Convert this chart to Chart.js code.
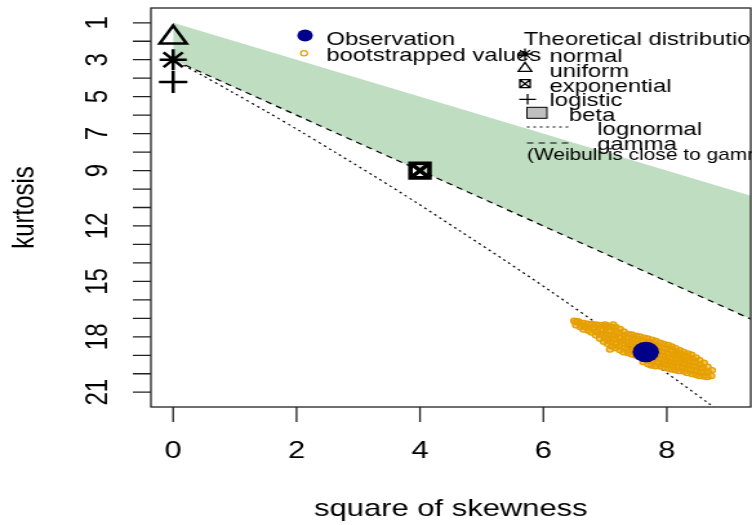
<!DOCTYPE html>
<html>
<head>
<meta charset="utf-8">
<title>Cullen and Frey graph</title>
<script src="https://cdn.jsdelivr.net/npm/chart.js@4.4.1/dist/chart.umd.min.js"></script>
<style>
  html, body { margin: 0; padding: 0; background: #fff; overflow: hidden; }
  #wrap { width: 583px; height: 525px; transform: scaleX(1.2899); transform-origin: 0 0; }
</style>
</head>
<body>
<div id="wrap"><canvas id="cf" width="583" height="525"></canvas></div>
<script>
// axis ticks (y is kurtosis, drawn top-down)
const xTicks = [0, 2, 4, 6, 8];
const yTicks = [1, 2, 3, 4, 5, 6, 7, 8, 9, 10, 11, 12, 13, 14, 15, 16, 17, 18, 19, 20, 21];
const yTickLabels = [1, 3, 5, 7, 9, 12, 15, 18, 21];

// observed (square of skewness, kurtosis)
const observation = [7.66, 18.82];

// theoretical distributions
const normalPt = [0, 3];
const uniformPt = [0, 1.8];
const exponentialPt = [4, 9];
const logisticPt = [0, 4.2];
const betaUpper = [[0, 1], [10, 11]];
const betaLower = [[0, 3], [10, 18]];
const gammaLine = [[0.2, 3.3], [10, 18]];
const lognormalLine = [[0.17, 3.30], [0.47, 3.84], [0.96, 4.76], [1.49, 5.76], [2.05, 6.85],
  [2.64, 8.04], [3.27, 9.32], [3.93, 10.71], [4.62, 12.21], [5.36, 13.83], [6.13, 15.56],
  [6.93, 17.43], [7.78, 19.43], [8.66, 21.56], [9.02, 22.46]];

// bootstrapped (skewness^2, kurtosis)
const bootValues = [
  [6.50,17.14],[6.52,17.21],[6.53,17.38],[6.56,17.16],[6.59,17.24],[6.60,17.47],
  [6.65,17.25],[6.66,17.42],[6.65,17.60],[6.72,17.29],[6.71,17.49],[6.73,17.67],
  [6.78,17.31],[6.79,17.54],[6.78,17.77],[6.85,17.34],[6.84,17.52],[6.86,17.74],[6.85,17.92],
  [6.91,17.36],[6.92,17.61],[6.91,17.87],[6.92,18.10],[7.00,17.33],
  [6.98,17.40],[6.97,17.63],[6.98,17.84],[6.99,18.05],[6.98,18.27],
  [7.04,17.43],[7.05,17.69],[7.04,17.90],[7.05,18.16],[7.04,18.37],[7.08,18.69],
  [7.11,17.46],[7.10,17.67],[7.11,17.91],[7.12,18.12],[7.10,18.30],[7.11,18.52],[7.13,17.33],
  [7.17,17.47],[7.18,17.71],[7.17,17.94],[7.16,18.14],[7.18,18.38],[7.17,18.61],
  [7.24,17.58],[7.23,17.81],[7.24,18.03],[7.25,18.27],[7.23,18.50],[7.24,18.72],
  [7.30,17.72],[7.31,17.92],[7.30,18.16],[7.29,18.37],[7.31,18.59],[7.30,18.83],
  [7.37,17.85],[7.36,18.05],[7.37,18.27],[7.38,18.46],[7.36,18.70],[7.37,18.88],
  [7.43,17.88],[7.44,18.10],[7.43,18.30],[7.42,18.54],[7.44,18.73],[7.43,18.95],
  [7.50,17.94],[7.49,18.14],[7.50,18.38],[7.51,18.57],[7.49,18.81],[7.50,19.01],
  [7.56,17.98],[7.57,18.21],[7.56,18.43],[7.55,18.86],[7.57,19.08],
  [7.63,18.05],[7.62,18.26],[7.63,19.19],[7.62,19.36],
  [7.69,18.09],[7.70,18.30],[7.69,19.28],[7.70,19.48],
  [7.76,18.16],[7.75,18.36],[7.76,19.33],[7.75,19.55],
  [7.82,18.23],[7.83,18.46],[7.82,18.68],[7.82,19.19],[7.83,19.38],[7.82,19.59],
  [7.89,18.33],[7.88,18.54],[7.89,18.77],[7.88,18.98],[7.89,19.20],[7.88,19.41],[7.89,19.60],
  [7.95,18.39],[7.96,18.61],[7.95,18.81],[7.94,19.04],[7.96,19.25],[7.95,19.46],[7.95,19.66],
  [8.02,18.45],[8.01,18.67],[8.02,18.90],[8.01,19.11],[8.02,19.32],[8.01,19.53],[8.02,19.72],
  [8.08,18.53],[8.09,18.75],[8.08,18.96],[8.07,19.16],[8.08,19.37],[8.09,19.56],[8.08,19.77],
  [8.14,18.62],[8.15,18.82],[8.14,19.03],[8.15,19.22],[8.14,19.41],[8.15,19.62],[8.14,19.81],
  [8.21,18.73],[8.20,18.94],[8.21,19.16],[8.22,19.38],[8.21,19.61],[8.20,19.85],
  [8.27,18.82],[8.28,19.03],[8.27,19.25],[8.28,19.45],[8.27,19.67],[8.28,19.88],
  [8.34,18.90],[8.33,19.12],[8.34,19.33],[8.35,19.54],[8.34,19.74],[8.33,19.96],
  [8.40,18.98],[8.41,19.18],[8.40,19.38],[8.41,19.59],[8.40,19.81],[8.41,20.01],
  [8.47,19.12],[8.46,19.36],[8.47,19.59],[8.48,19.83],[8.47,20.06],
  [8.53,19.27],[8.54,19.49],[8.53,19.70],[8.54,19.92],[8.53,20.12],
  [8.60,19.41],[8.59,19.67],[8.60,19.92],[8.60,20.15],
  [8.66,19.63],[8.67,19.90],[8.66,20.17],
  [8.73,19.81],[8.72,20.12]
];

const GREEN = 'rgb(191,221,192)';
const ORANGE = '#E69F00';
const NAVY = '#00008B';
const FONT = '"Liberation Sans", Arial, Helvetica, sans-serif';

const pts = arr => arr.map(p => ({ x: p[0], y: p[1] }));

function marker(data, style, radius, width, order) {
  return {
    type: 'scatter',
    data: pts([data]),
    pointStyle: style,
    pointRadius: radius,
    pointBorderWidth: width,
    pointBorderColor: '#000',
    pointBackgroundColor: 'rgba(0,0,0,0)',
    order: order
  };
}

// R-like box, axes, labels and the two legends
const rPlot = {
  id: 'rPlot',
  afterDraw(chart) {
    const ctx = chart.ctx;
    const a = chart.chartArea;
    const xs = chart.scales.x, ys = chart.scales.y;
    ctx.save();
    ctx.strokeStyle = '#222';
    ctx.lineWidth = 1.3;
    ctx.strokeRect(a.left, a.top, a.right - a.left, a.bottom - a.top);

    ctx.beginPath();
    xTicks.forEach(v => {
      const px = xs.getPixelForValue(v);
      ctx.moveTo(px, a.bottom);
      ctx.lineTo(px, a.bottom + 15);
    });
    yTicks.forEach(v => {
      const py = ys.getPixelForValue(v);
      ctx.moveTo(a.left, py);
      ctx.lineTo(a.left - 14, py);
    });
    ctx.stroke();

    ctx.fillStyle = '#000';
    ctx.font = '24px ' + FONT;
    ctx.textAlign = 'center';
    ctx.textBaseline = 'alphabetic';
    xTicks.forEach(v => ctx.fillText(String(v), xs.getPixelForValue(v), 458));
    ctx.fillText('square of skewness', (a.left + a.right) / 2, 516);
    yTickLabels.forEach(v => {
      ctx.save();
      ctx.translate(83, ys.getPixelForValue(v));
      ctx.rotate(-Math.PI / 2);
      ctx.fillText(String(v), 0, 0);
      ctx.restore();
    });
    ctx.save();
    ctx.translate(26, (a.top + a.bottom) / 2);
    ctx.rotate(-Math.PI / 2);
    ctx.fillText('kurtosis', 0, 0);
    ctx.restore();

    // legend: observation / bootstrap
    ctx.textAlign = 'left';
    ctx.font = '18.5px ' + FONT;
    ctx.fillStyle = NAVY;
    ctx.beginPath();
    ctx.arc(236.5, 35.5, 6, 0, Math.PI * 2);
    ctx.fill();
    ctx.strokeStyle = ORANGE;
    ctx.lineWidth = 1.2;
    ctx.beginPath();
    ctx.arc(235.7, 53.3, 2.6, 0, Math.PI * 2);
    ctx.stroke();
    ctx.fillStyle = '#000';
    ctx.fillText('Observation', 253, 45);
    ctx.fillText('bootstrapped values', 253, 60.5);

    // legend: theoretical distributions
    ctx.fillText('Theoretical distributions', 406, 45);
    ctx.fillText('normal', 426, 61.7);
    ctx.fillText('uniform', 426, 76.7);
    ctx.fillText('exponential', 426, 91.7);
    ctx.fillText('logistic', 426, 106);
    ctx.fillText('beta', 441, 120.7);
    ctx.fillText('lognormal', 463, 135);
    ctx.fillText('gamma', 463, 150);
    ctx.font = '16.2px ' + FONT;
    ctx.fillText('(Weibull is close to gamma and lognormal)', 408.5, 160);

    ctx.strokeStyle = '#000';
    ctx.lineWidth = 1.3;
    // asterisk
    ctx.beginPath();
    for (let k = 0; k < 4; k++) {
      const ang = k * Math.PI / 4;
      ctx.moveTo(407 - Math.cos(ang) * 5.5, 54 - Math.sin(ang) * 5.5);
      ctx.lineTo(407 + Math.cos(ang) * 5.5, 54 + Math.sin(ang) * 5.5);
    }
    ctx.stroke();
    // triangle
    ctx.beginPath();
    ctx.moveTo(407, 62.3);
    ctx.lineTo(412.2, 71.3);
    ctx.lineTo(401.8, 71.3);
    ctx.closePath();
    ctx.stroke();
    // square with cross
    ctx.beginPath();
    ctx.rect(403, 79.7, 8, 8);
    ctx.moveTo(403, 79.7); ctx.lineTo(411, 87.7);
    ctx.moveTo(411, 79.7); ctx.lineTo(403, 87.7);
    ctx.stroke();
    // plus
    ctx.beginPath();
    ctx.moveTo(402.5, 99.3); ctx.lineTo(415.5, 99.3);
    ctx.moveTo(409, 94); ctx.lineTo(409, 104.6);
    ctx.stroke();
    // beta box
    ctx.fillStyle = '#C0C0C0';
    ctx.fillRect(408.5, 107.3, 15.5, 11);
    ctx.lineWidth = 1;
    ctx.strokeRect(408.5, 107.3, 15.5, 11);
    // lognormal / gamma line samples
    ctx.lineWidth = 1.2;
    ctx.setLineDash([2, 3]);
    ctx.beginPath(); ctx.moveTo(408.5, 127); ctx.lineTo(442, 127); ctx.stroke();
    ctx.setLineDash([5, 4]);
    ctx.beginPath(); ctx.moveTo(408.5, 143); ctx.lineTo(442, 143); ctx.stroke();
    ctx.restore();
  }
};

new Chart(document.getElementById('cf'), {
  type: 'scatter',
  data: {
    datasets: [
      {
        type: 'line', data: pts(betaUpper), borderColor: 'rgba(0,0,0,0)', borderWidth: 1,
        pointRadius: 0, fill: false, order: 11
      },
      {
        type: 'line', data: pts(betaLower), borderColor: 'rgba(0,0,0,0)', borderWidth: 1,
        backgroundColor: GREEN, pointRadius: 0, fill: '-1', order: 10
      },
      {
        type: 'line', data: pts(gammaLine), borderColor: '#000', borderWidth: 1.2,
        borderDash: [5, 4], pointRadius: 0, fill: false, order: 8
      },
      {
        type: 'line', data: pts(lognormalLine), borderColor: '#000', borderWidth: 1.2,
        borderDash: [2, 3], pointRadius: 0, fill: false, tension: 0.3, order: 8
      },
      marker(normalPt, 'star', 10.5, 2.5, 6),
      marker(uniformPt, 'triangle', 12, 2.5, 6),
      marker(exponentialPt, 'rect', 10.4, 3.6, 6),
      marker(exponentialPt, 'crossRot', 10.4, 3.6, 6),
      marker(logisticPt, 'cross', 11, 2.5, 6),
      {
        data: pts(bootValues), pointStyle: 'circle', pointRadius: 2.6,
        pointBorderWidth: 1.4, pointBorderColor: ORANGE,
        pointBackgroundColor: 'rgba(230,159,0,0.45)', order: 4
      },
      {
        data: pts([observation]), pointStyle: 'circle', pointRadius: 10.3,
        pointBorderWidth: 0, pointBackgroundColor: NAVY, pointBorderColor: NAVY, order: 1
      }
    ]
  },
  options: {
    responsive: false,
    animation: false,
    devicePixelRatio: 1,
    events: [],
    layout: { autoPadding: false, padding: { left: 117, right: 1, top: 8, bottom: 118 } },
    scales: {
      x: { type: 'linear', min: -0.36, max: 9.36, display: false },
      y: { type: 'linear', min: 0.2, max: 21.8, reverse: true, display: false }
    },
    plugins: {
      legend: { display: false },
      tooltip: { enabled: false }
    }
  },
  plugins: [rPlot]
});
</script>
</body>
</html>
